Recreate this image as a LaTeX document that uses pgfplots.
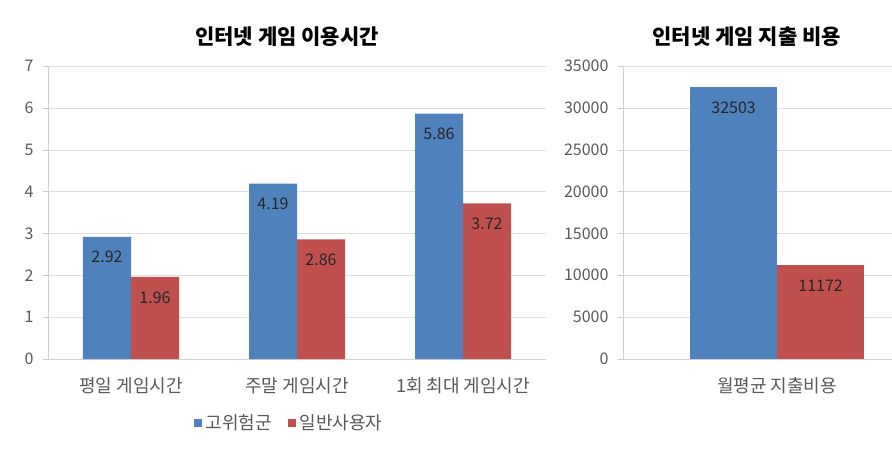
\documentclass[border=0pt]{standalone}
\usepackage{fontspec}
\setmainfont{Noto Sans CJK KR}
\usepackage{pgfplots}
\pgfplotsset{compat=1.18}
\definecolor{sblue}{HTML}{4F81BD}
\definecolor{sred}{HTML}{C0504D}
\definecolor{tgray}{HTML}{595959}
\begin{document}
\begin{tikzpicture}[x=1pt,y=1pt]
\useasboundingbox (0,0) rectangle (892,448);
\pgfplotsset{common/.style={
 scale only axis, height=293pt, ymin=0,
 axis x line*=bottom, axis y line*=left,
 axis line style={draw=gray!35},
 ymajorgrids, grid style={gray!25},
 ybar=0pt, enlarge x limits=false,
 tick label style={text=tgray},
 yticklabel style={font=\fontsize{16}{16}\selectfont, xshift=-6pt},
 xticklabel style={font=\fontsize{18}{18}\selectfont, yshift=-10pt},
 /pgf/number format/assume math mode=true,
 /pgf/number format/1000 sep={},
 scaled y ticks=false,
 ytick style={draw=gray!40}, tick align=outside, major tick length=5pt,
 xtick style={draw=none},
 extra x tick labels={},
 extra x tick style={grid=none, tick style={draw=gray!40}, major tick length=5pt},
 nodes near coords,
 every node near coord/.append style={anchor=north, yshift=-11pt, font=\fontsize{16}{16}\selectfont, text=black!85},
 title style={font=\bfseries\fontsize{21}{21}\selectfont, anchor=south, yshift=10pt},
}}
\begin{axis}[common, at={(48pt,89pt)}, anchor=south west, width=498pt,
  xmin=-0.5, xmax=2.5, ymax=7, ytick={0,1,...,7}, bar width=48pt,
  xtick={0,1,2}, xticklabels={평일 게임시간, 주말 게임시간, 1회 최대 게임시간},
  extra x ticks={-0.5,0.5,1.5,2.5},
  title={인터넷 게임 이용시간}, title style={at={(0.48,1)}},
  legend style={at={(0.484,-0.218)}, anchor=center, legend columns=2, draw=none,
    font=\fontsize{18}{18}\selectfont, text=tgray,
    /tikz/every even column/.append style={column sep=14pt}},
  legend image code/.code={\fill[#1] (0pt,-4pt) rectangle (8pt,4pt);},
]
\addplot[fill=sblue, draw=none] coordinates {(0,2.92) (1,4.19) (2,5.86)};
\addplot[fill=sred, draw=none] coordinates {(0,1.96) (1,2.86) (2,3.72)};
\legend{\hspace{2pt}고위험군, \hspace{2pt}일반사용자}
\end{axis}
\begin{axis}[common, at={(623pt,89pt)}, anchor=south west, width=269pt,
  xmin=-0.5, xmax=0.373, ymax=35000, ytick={0,5000,...,35000}, bar width=87pt,
  xtick={0}, xticklabels={월평균 지출비용},
  extra x ticks={-0.5},
  title={인터넷 게임 지출 비용}, title style={at={(0.46,1)}},
]
\addplot[fill=sblue, draw=none] coordinates {(0,32503)};
\addplot[fill=sred, draw=none] coordinates {(0,11172)};
\end{axis}
\end{tikzpicture}
\end{document}
